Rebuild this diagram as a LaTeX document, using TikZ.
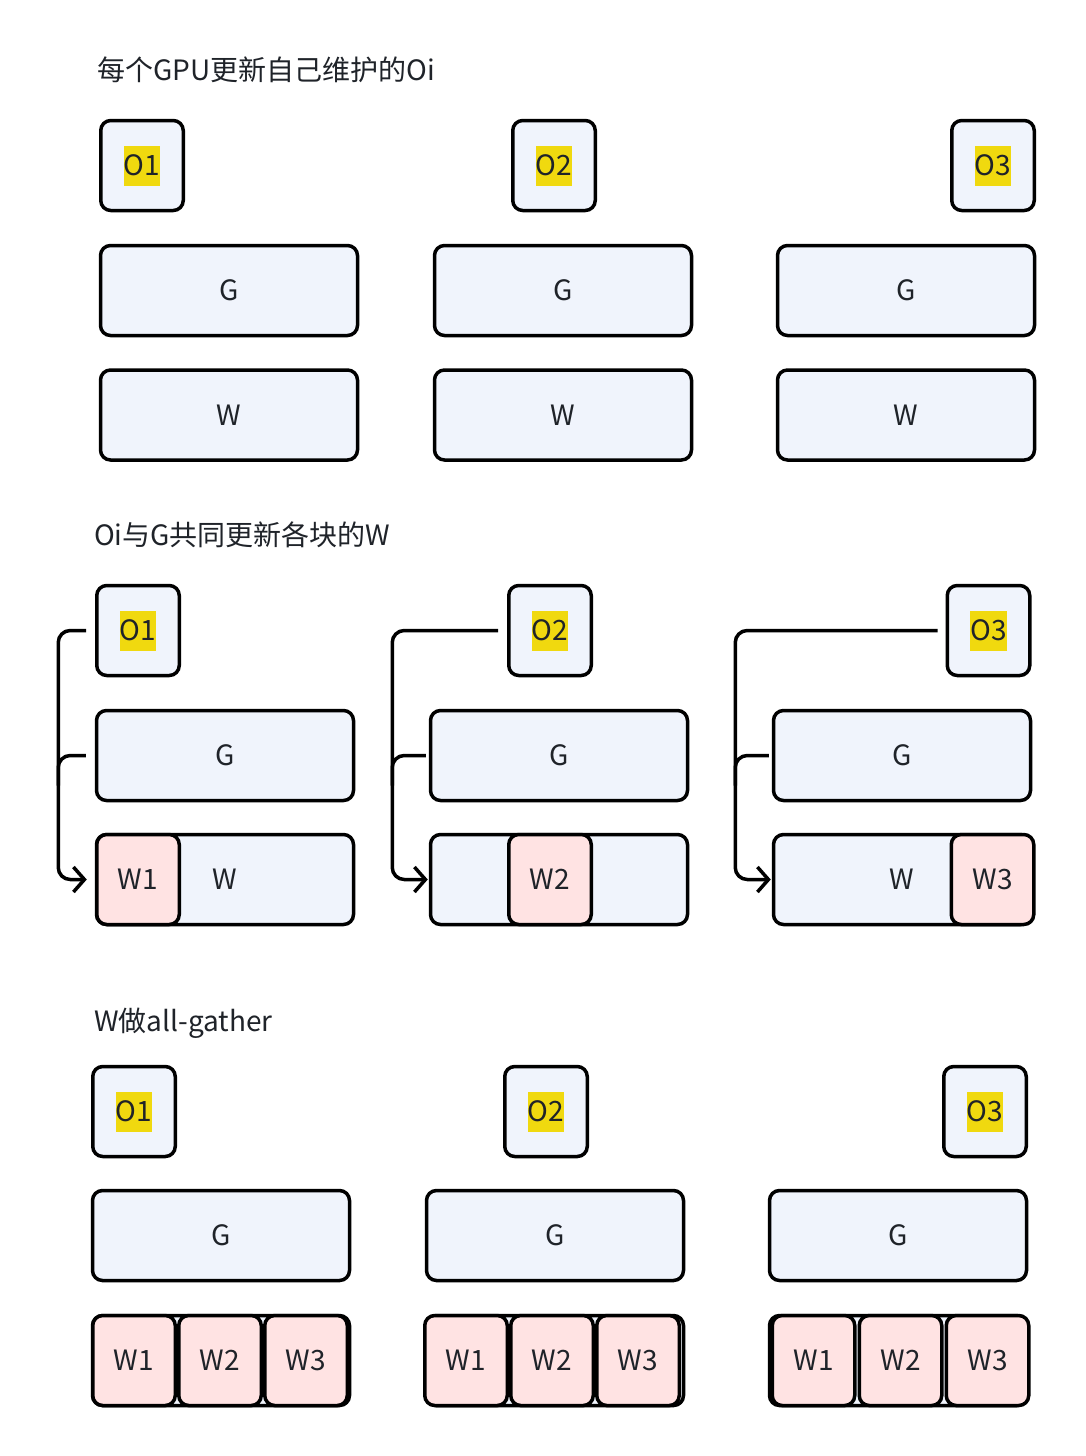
\documentclass[tikz,border=0pt]{standalone}
\usepackage{fontspec}
\setmainfont{Noto Sans CJK SC}
\usetikzlibrary{positioning, arrows.meta}
\definecolor{boxblue}{HTML}{F0F4FC}
\definecolor{boxpink}{HTML}{FFE3E3}
\definecolor{hlyel}{HTML}{F0D90F}
\definecolor{ink}{HTML}{1F2329}
\newcommand{\hlt}[1]{{\setlength{\fboxsep}{0pt}\colorbox{hlyel}{\rule[-10pt]{0pt}{40pt}#1}}}

\begin{document}
\begin{tikzpicture}[x=1pt, y=-1pt]
\tikzstyle{blk}=[rectangle, draw=black, line width=3.5pt, rounded corners=10pt, fill=boxblue, text=ink, inner sep=0pt]
\tikzstyle{opt}=[blk, minimum width=82.5pt, minimum height=90pt]
\tikzstyle{wide}=[blk, minimum width=257pt, minimum height=90pt]
\tikzstyle{part}=[opt, fill=boxpink]
\tikzstyle{title}=[anchor=west, text=ink, inner sep=0pt]
\tikzstyle{connect}=[-{Straight Barb[length=11pt,width=25pt]}, line width=3.5pt, rounded corners=12pt, shorten <=3pt, shorten >=1pt]
\tikzstyle{branch}=[line width=3.5pt, rounded corners=12pt, shorten <=3pt]
\fontsize{28pt}{34pt}\selectfont
\useasboundingbox (0,0) rectangle (1086,1456);
% 1. Each GPU updates its own Oi
%%%%%%%%%%
\node[title] (t1) at (97,70) {每个GPU更新自己维护的Oi};
\node[opt] (o11) at (142,165.5) {\hlt{O1}};
\node[opt] (o12) at (554,165.5) {\hlt{O2}};
\node[opt] (o13) at (993,165.5) {\hlt{O3}};
\node[wide] (g11) at (229,290.5) {G};
\node[wide] (g12) at (563,290.5) {G};
\node[wide] (g13) at (906,290.5) {G};
\node[wide] (w11) at (229,415) {W};
\node[wide] (w12) at (563,415) {W};
\node[wide] (w13) at (906,415) {W};

% 2. Oi and G update the W shards
%%%%%%%%%%
\node[title] (t2) at (94,535) {Oi与G共同更新各块的W};
\node[opt] (o21) at (138,630.5) {\hlt{O1}};
\node[opt] (o22) at (550,630.5) {\hlt{O2}};
\node[opt] (o23) at (988.5,630.5) {\hlt{O3}};
\node[wide] (g21) at (225,755.5) {G};
\node[wide] (g22) at (559,755.5) {G};
\node[wide] (g23) at (902,755.5) {G};
\node[wide] (w21) at (225,879.5) {W};
\node[wide] (w22) at (559,879.5) {};
\node[wide] (w23) at (902,879.5) {W};
\node[part] (p21) at (138,879.5) {W1};
\node[part] (p22) at (550,879.5) {W2};
\node[part] (p23) at (992.5,879.5) {W3};

\draw[connect, shorten <=9pt, shorten >=8pt] (o21.west) -| ([xshift=-36.5pt]w21.west) -- (w21.west);
\draw[branch, shorten <=9pt] (g21.west) -| ([xshift=-36.5pt,yshift=-30pt]g21.west);
\draw[connect, shorten <=9pt] (o22.west) -| ([xshift=-36.5pt]w22.west) -- (w22.west);
\draw[branch] (g22.west) -| ([xshift=-36.5pt,yshift=-30pt]g22.west);
\draw[connect, shorten <=8pt] (o23.west) -| ([xshift=-36.5pt]w23.west) -- (w23.west);
\draw[branch] (g23.west) -| ([xshift=-36.5pt,yshift=-30pt]g23.west);

% 3. W all-gather
%%%%%%%%%%
\node[title] (t3) at (94,1023) {W做all-gather};
\node[opt] (o31) at (134,1111.5) {\hlt{O1}};
\node[opt] (o32) at (546,1111.5) {\hlt{O2}};
\node[opt] (o33) at (985,1111.5) {\hlt{O3}};
\node[wide] (g31) at (221,1235.5) {G};
\node[wide] (g32) at (555,1235.5) {G};
\node[wide] (g33) at (898,1235.5) {G};
\node[wide] (w31) at (221,1360.5) {};
\node[wide] (w32) at (555,1360.5) {};
\node[wide] (w33) at (898,1360.5) {};

\node[part] (p311) at (134,1360.5) {W1};
\node[part] (p312) [right=0pt of p311] {W2};
\node[part] (p313) [right=0pt of p312] {W3};
\node[part] (p321) at (466,1360.5) {W1};
\node[part] (p322) [right=0pt of p321] {W2};
\node[part] (p323) [right=0pt of p322] {W3};
\node[part] (p331) at (813.5,1360.5) {W1};
\node[part] (p332) [right=1pt of p331] {W2};
\node[part] (p333) [right=1pt of p332] {W3};

\end{tikzpicture}
\end{document}
